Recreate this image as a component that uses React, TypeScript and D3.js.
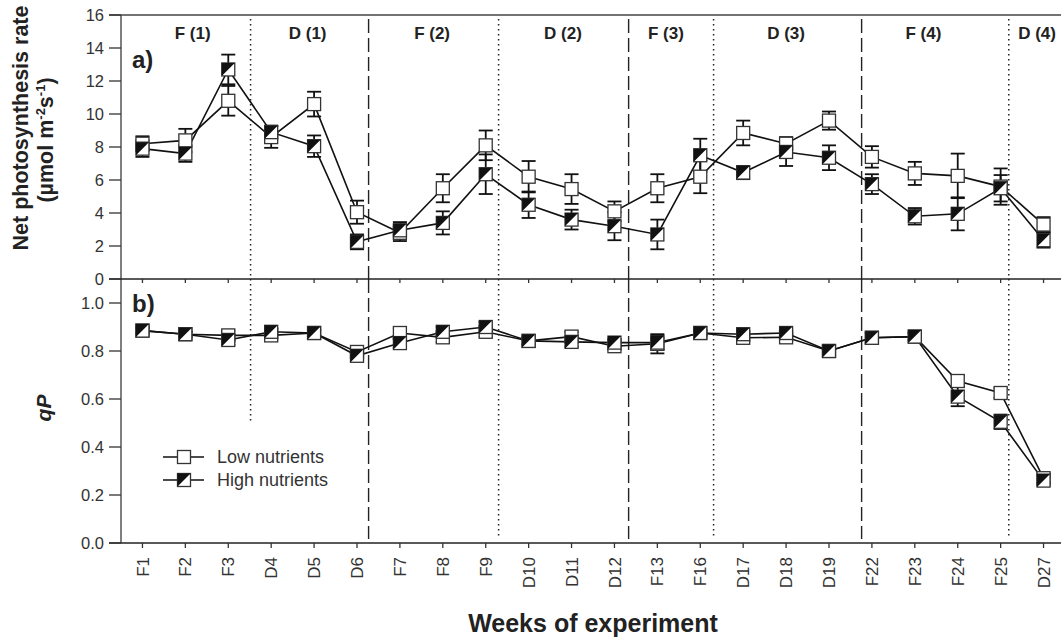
import React from "react";
import * as d3 from "d3";

// Sampling weeks (F = flooded, D = drained)
const weeks = ["F1","F2","F3","D4","D5","D6","F7","F8","F9","D10","D11","D12","F13","F16","D17","D18","D19","F22","F23","F24","F25","D27"];

// Net photosynthesis rate (µmol m-2 s-1)
const pnLow = [8.2,8.4,10.8,8.6,10.6,4.05,2.8,5.5,8.1,6.2,5.45,4.1,5.5,6.2,8.85,8.2,9.6,7.4,6.4,6.25,5.6,3.3];
const pnLowErr = [0.45,0.7,0.9,0.65,0.75,0.7,0.5,0.85,0.9,0.95,0.9,0.6,0.85,1.0,0.75,0.4,0.55,0.65,0.7,1.35,1.1,0.45];
const pnHigh = [7.9,7.6,12.7,8.9,8.05,2.25,2.95,3.4,6.35,4.5,3.6,3.2,2.7,7.5,6.45,7.7,7.35,5.75,3.8,3.95,5.5,2.35];
const pnHighErr = [0.5,0.5,0.9,0.4,0.65,0.45,0.5,0.7,1.2,0.8,0.6,0.85,0.9,1.0,0.4,0.85,0.75,0.6,0.5,1.0,0.8,0.45];

// Photochemical quenching qP
const qpLow = [0.885,0.87,0.865,0.865,0.875,0.796,0.875,0.857,0.88,0.842,0.86,0.82,0.83,0.875,0.855,0.857,0.8,0.855,0.86,0.675,0.625,0.27];
const qpLowErr = [0.012,0.01,0.02,0.015,0.012,0.02,0.02,0.02,0.02,0.015,0.02,0.015,0.04,0.01,0.015,0.015,0.02,0.02,0.015,0.025,0.02,0.02];
const qpHigh = [0.885,0.87,0.846,0.88,0.875,0.78,0.833,0.88,0.9,0.842,0.838,0.835,0.835,0.875,0.87,0.875,0.8,0.855,0.86,0.61,0.505,0.26];
const qpHighErr = [0.012,0.01,0.02,0.015,0.012,0.015,0.02,0.02,0.02,0.015,0.02,0.015,0.03,0.01,0.015,0.015,0.02,0.02,0.015,0.04,0.03,0.02];

const pnTicks = [0,2,4,6,8,10,12,14,16];
const qpTicks = [0,0.2,0.4,0.6,0.8,1.0];

// Period boundaries (position in week-index units) and style
const boundaries = [
  { pos: 2.52, kind: "dotted", bottomEnd: 0.5 },
  { pos: 5.27, kind: "dashed", bottomEnd: 0 },
  { pos: 8.3, kind: "dotted", bottomEnd: 0 },
  { pos: 11.33, kind: "dashed", bottomEnd: 0 },
  { pos: 13.31, kind: "dotted", bottomEnd: 0 },
  { pos: 16.76, kind: "dashed", bottomEnd: 0 },
  { pos: 20.19, kind: "dotted", bottomEnd: 0 },
];
const periods = [
  { label: "F (1)", pos: 1.17 },
  { label: "D (1)", pos: 3.85 },
  { label: "F (2)", pos: 6.75 },
  { label: "D (2)", pos: 9.8 },
  { label: "F (3)", pos: 12.2 },
  { label: "D (3)", pos: 15.0 },
  { label: "F (4)", pos: 18.2 },
  { label: "D (4)", pos: 20.85 },
];

const FONT = "'Liberation Sans', Arial, Helvetica, sans-serif";
const W = 1061, H = 638;
const left = 121, right = 1065;
const pnTop = 15, pnBottom = 279, qpBottom = 543;
const S = 13; // marker size

export default function App() {
  const x = d3.scalePoint<string>().domain(weeks).range([left, right]).padding(0.5);
  const step = x.step();
  const xi = (i: number) => (x(weeks[0]) as number) + i * step;
  const yPn = d3.scaleLinear().domain([0, 16]).range([pnBottom, pnTop]);
  const yQp = d3.scaleLinear().domain([0, 1.1]).range([qpBottom, pnBottom]);

  const line = (vals: number[], y: d3.ScaleLinear<number, number>) =>
    d3.line<number>().x((_, i) => x(weeks[i]) as number).y((v) => y(v))(vals) as string;

  const errBars = (vals: number[], errs: number[], y: d3.ScaleLinear<number, number>, key: string) =>
    vals.map((v, i) => {
      const cx = x(weeks[i]) as number;
      const y1 = y(v - errs[i]), y2 = y(v + errs[i]);
      return (
        <g key={key + i} stroke="#111" strokeWidth={1.8}>
          <line x1={cx} x2={cx} y1={y1} y2={y2} />
          <line x1={cx - 7} x2={cx + 7} y1={y1} y2={y1} />
          <line x1={cx - 7} x2={cx + 7} y1={y2} y2={y2} />
        </g>
      );
    });

  const marker = (cx: number, cy: number, half: boolean, key: string) => (
    <g key={key}>
      <rect x={cx - S / 2} y={cy - S / 2} width={S} height={S} fill="#fff" stroke="#333" strokeWidth={1.3} />
      {half && (
        <path d={`M${cx - S / 2},${cy - S / 2}L${cx + S / 2},${cy - S / 2}L${cx - S / 2},${cy + S / 2}Z`} fill="#111" />
      )}
    </g>
  );

  const series = (low: number[], lowE: number[], high: number[], highE: number[], y: d3.ScaleLinear<number, number>, k: string) => (
    <g>
      {errBars(low, lowE, y, k + "le")}
      {errBars(high, highE, y, k + "he")}
      <path d={line(low, y)} fill="none" stroke="#111" strokeWidth={1.6} />
      <path d={line(high, y)} fill="none" stroke="#111" strokeWidth={1.6} />
      {low.map((v, i) => marker(x(weeks[i]) as number, y(v), false, k + "lm" + i))}
      {high.map((v, i) => marker(x(weeks[i]) as number, y(v), true, k + "hm" + i))}
    </g>
  );

  return (
    <svg width={W} height={H} style={{ position: "absolute", left: 0, top: 0, background: "#fff" }} fontFamily={FONT}>
      <rect width={W} height={H} fill="#fff" />

      {/* period boundaries */}
      {boundaries.map((b, i) => {
        const bx = xi(b.pos);
        const dash = b.kind === "dotted" ? "1.5,3.5" : "14,5";
        const w = b.kind === "dotted" ? 1.5 : 1.4;
        const yEnd = b.bottomEnd ? yQp(b.bottomEnd) : qpBottom - 4;
        return (
          <g key={"b" + i} stroke="#222" strokeWidth={w} strokeDasharray={dash}>
            <line x1={bx} x2={bx} y1={pnTop + 4} y2={pnBottom} />
            <line x1={bx} x2={bx} y1={pnBottom} y2={yEnd} />
          </g>
        );
      })}

      {/* axes */}
      <line x1={left} x2={left} y1={pnTop} y2={qpBottom} stroke="#555" strokeWidth={1.5} />
      <line x1={left - 12} x2={right} y1={pnTop} y2={pnTop} stroke="#444" strokeWidth={1.5} />
      <line x1={left - 12} x2={right} y1={pnBottom} y2={pnBottom} stroke="#222" strokeWidth={1.5} />
      <line x1={left - 12} x2={right} y1={qpBottom} y2={qpBottom} stroke="#222" strokeWidth={1.5} />

      {pnTicks.map((t) => (
        <g key={"pt" + t}>
          <line x1={left - 12} x2={left} y1={yPn(t)} y2={yPn(t)} stroke="#333" strokeWidth={1.3} />
          <text x={left - 17} y={yPn(t)} dy="0.36em" textAnchor="end" fontSize={16.5} fill="#333">{t}</text>
        </g>
      ))}
      {qpTicks.map((t) => (
        <g key={"qt" + t}>
          <line x1={left - 12} x2={left} y1={yQp(t)} y2={yQp(t)} stroke="#333" strokeWidth={1.3} />
          <text x={left - 17} y={yQp(t)} dy="0.36em" textAnchor="end" fontSize={16.5} fill="#333">{t.toFixed(1)}</text>
        </g>
      ))}
      {weeks.map((w) => {
        const cx = x(w) as number;
        return (
          <g key={"xt" + w}>
            <line x1={cx} x2={cx} y1={pnBottom} y2={pnBottom + 4} stroke="#333" strokeWidth={1.3} />
            <line x1={cx} x2={cx} y1={qpBottom} y2={qpBottom + 5} stroke="#333" strokeWidth={1.3} />
            <text transform={`translate(${cx},${qpBottom + 14}) rotate(-90)`} dy="0.36em" textAnchor="end" fontSize={17} fill="#333">{w}</text>
          </g>
        );
      })}

      {/* data */}
      {series(pnLow, pnLowErr, pnHigh, pnHighErr, yPn, "pn")}
      {series(qpLow, qpLowErr, qpHigh, qpHighErr, yQp, "qp")}

      {/* period labels */}
      {periods.map((p) => (
        <text key={p.label} x={xi(p.pos)} y={39} textAnchor="middle" fontSize={17} fontWeight="bold" fill="#222">{p.label}</text>
      ))}
      <text x={132} y={68} fontSize={24} fontWeight="bold" fill="#222">a)</text>
      <text x={132} y={312} fontSize={24} fontWeight="bold" fill="#222">b)</text>

      {/* axis titles */}
      <text transform="translate(28,128) rotate(-90)" textAnchor="middle" fontSize={21.5} fontWeight="bold" fill="#222">Net photosynthesis rate</text>
      <text transform="translate(53,140) rotate(-90)" textAnchor="middle" fontSize={21.5} fontWeight="bold" fill="#222">
        (µmol m<tspan fontSize={13} dy={-8}>-2</tspan><tspan dy={8}>s</tspan><tspan fontSize={13} dy={-8}>-1</tspan><tspan dy={8}>)</tspan>
      </text>
      <text transform="translate(51,408) rotate(-90)" textAnchor="middle" fontSize={21} fontWeight="bold" fontStyle="italic" fill="#222">qP</text>
      <text x={593} y={632} textAnchor="middle" fontSize={25} fontWeight="bold" fill="#222">Weeks of experiment</text>

      {/* legend */}
      <g>
        <line x1={163} x2={204} y1={457} y2={457} stroke="#111" strokeWidth={1.6} />
        {marker(184, 457, false, "lg1")}
        <text x={217} y={457} dy="0.36em" fontSize={18} fill="#333">Low nutrients</text>
        <line x1={163} x2={204} y1={480} y2={480} stroke="#111" strokeWidth={1.6} />
        {marker(184, 480, true, "lg2")}
        <text x={217} y={480} dy="0.36em" fontSize={18} fill="#333">High nutrients</text>
      </g>
    </svg>
  );
}
